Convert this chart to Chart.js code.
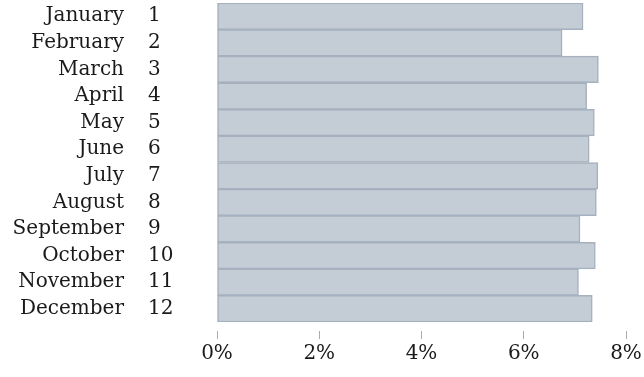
<!DOCTYPE html>
<html>
<head>
<meta charset="utf-8">
<script src="https://cdn.jsdelivr.net/npm/chart.js@4/dist/chart.umd.min.js"></script>
<style>
  html, body { margin: 0; padding: 0; background: #fff; }
  #wrap { width: 644px; height: 377px; }
</style>
</head>
<body>
<div id="wrap"><canvas id="chart" width="644" height="377"></canvas></div>
<script>
const months = ["January", "February", "March", "April", "May", "June", "July", "August", "September", "October", "November", "December"];
const monthNums = ["1", "2", "3", "4", "5", "6", "7", "8", "9", "10", "11", "12"];
const shares = [7.16, 6.75, 7.46, 7.23, 7.38, 7.28, 7.45, 7.42, 7.10, 7.40, 7.07, 7.34];
const xTicks = [0, 2, 4, 6, 8];

const FONT = { family: "'DejaVu Serif', serif", size: 20 };
const INK = "#1a1a1a";

// left axes: fixed widths, no extra vertical padding
const fixLeft = (w) => (s) => { s.width = w; s.paddingTop = 0; s.paddingBottom = 0; };

new Chart(document.getElementById("chart"), {
  type: "bar",
  data: {
    labels: monthNums,
    datasets: [{
      data: shares,
      yAxisID: "y",
      backgroundColor: "rgb(196,204,214)",
      borderColor: "rgb(165,177,190)",
      borderWidth: 1.5,
      borderSkipped: false,
      categoryPercentage: 1,
      barPercentage: 1,
    }],
  },
  options: {
    indexAxis: "y",
    responsive: false,
    animation: false,
    devicePixelRatio: 1,
    layout: { padding: { top: 3, right: 18, left: 0, bottom: 11 } },
    plugins: { legend: { display: false }, tooltip: { enabled: false } },
    scales: {
      x: {
        min: 0, max: 8,
        afterBuildTicks: (s) => { s.ticks = xTicks.map((v) => ({ value: v })); },
        grid: { drawOnChartArea: false, drawTicks: true, tickLength: 20, color: "#aaa", tickBorderDash: [0, 9, 8, 100] },
        border: { display: false },
        ticks: { color: INK, font: FONT, padding: 0, callback: (v) => v + "%" },
      },
      y: {
        position: "left",
        weight: 1,
        grid: { display: false, drawTicks: false, tickLength: 0 },
        border: { display: false },
        ticks: { color: INK, font: FONT, crossAlign: "far", padding: 0, autoSkip: false },
        afterFit: fixLeft(69),
      },
      names: {
        type: "category",
        labels: months,
        position: "left",
        weight: 2,
        grid: { display: false, drawTicks: false, tickLength: 0 },
        border: { display: false },
        ticks: { color: INK, font: FONT, crossAlign: "near", padding: 24, autoSkip: false },
        afterFit: fixLeft(148),
      },
    },
  },
});
</script>
</body>
</html>
